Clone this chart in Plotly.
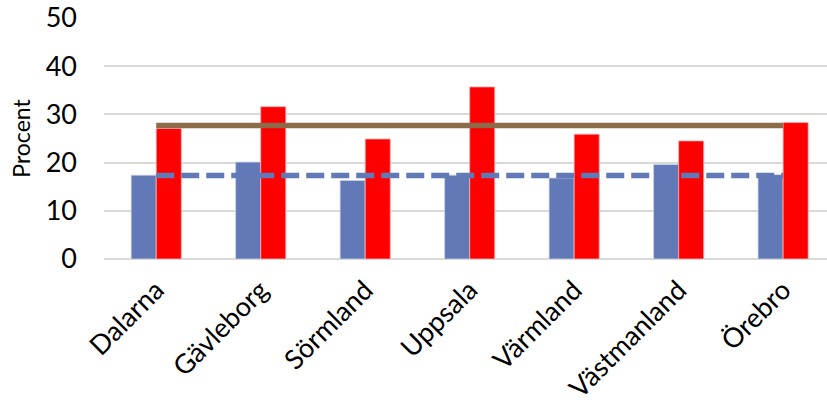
import plotly.graph_objects as go

# Regions along the x axis
regions = ["Dalarna", "Gävleborg", "Sörmland", "Uppsala", "Värmland", "Västmanland", "Örebro"]

# Share (%) per region for the two groups
group_a = [17.4, 20.1, 16.3, 17.4, 16.8, 19.6, 17.5]
group_b = [27.1, 31.6, 24.9, 35.7, 25.9, 24.5, 28.3]

# Reference levels drawn as horizontal lines across the regions
level_b = [27.7, 27.7, 27.7, 27.7, 27.7, 27.7, 27.7]
level_a = [17.3, 17.3, 17.3, 17.3, 17.3, 17.3, 17.3]

y_ticks = [0, 10, 20, 30, 40, 50]

BLUE = "#6279B8"
RED = "#FF0000"
BROWN = "#8B6B4A"
FONT = "Lato"

fig = go.Figure()
fig.add_trace(go.Bar(x=regions, y=group_a, marker=dict(color=BLUE, line=dict(color="#C9D1EA", width=0.8)),
                     showlegend=False))
fig.add_trace(go.Bar(x=regions, y=group_b, marker=dict(color=RED, line=dict(color="#FFB0B0", width=0.8)),
                     showlegend=False))
fig.add_trace(go.Scatter(x=regions, y=level_b, mode="lines",
                         line=dict(color=BROWN, width=5.5), showlegend=False))
fig.add_trace(go.Scatter(x=regions, y=level_a, mode="lines",
                         line=dict(color=BLUE, width=5.5, dash="18px,7px"), showlegend=False))

fig.update_layout(
    width=827, height=412,
    margin=dict(l=104, r=0, t=18, b=153),
    paper_bgcolor="white", plot_bgcolor="white",
    barmode="group", bargap=0.52, bargroupgap=0,
    font=dict(family=FONT, color="black"),
)
fig.update_xaxes(
    type="category", categoryorder="array", categoryarray=regions,
    range=[-0.5, 6.42], tickangle=-45, tickfont=dict(size=27, family=FONT),
    showgrid=False, showline=False, ticks="", ticklabelstandoff=9,
    automargin=False,
)
fig.update_yaxes(
    range=[0, 50], tickvals=y_ticks, tickfont=dict(size=27, family=FONT),
    showgrid=True, gridcolor="#D9D9D9", gridwidth=1.5,
    zeroline=True, zerolinecolor="#D9D9D9", zerolinewidth=1.5,
    ticks="", ticklabelstandoff=26, automargin=False,
    title=dict(text="Procent", font=dict(size=23, family=FONT), standoff=8),
)

fig.write_html("out.html")
